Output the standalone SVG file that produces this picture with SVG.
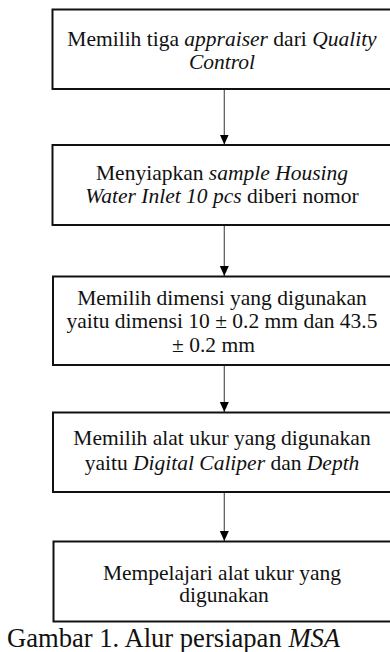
<svg xmlns="http://www.w3.org/2000/svg" width="390" height="652" viewBox="0 0 390 652">
<style>
.box{fill:#fff;stroke:#111;stroke-width:2}
.t{font-family:"Liberation Serif","Times New Roman",serif;font-size:21.5px;fill:#111;text-anchor:middle}
.i{font-style:italic}
.c{stroke:#555;stroke-width:1.2;fill:none}
.cap{font-family:"Liberation Serif","Times New Roman",serif;font-size:26.6px;fill:#111}
</style>
<defs>
<marker id="ah" viewBox="0 0 10 10" refX="10" refY="5" markerWidth="10" markerHeight="10" markerUnits="userSpaceOnUse" orient="auto">
<path d="M0,0.5 L10,5 L0,9.5 Z" fill="#000"/>
</marker>
</defs>
<rect width="390" height="652" fill="#fff"/>
<g id="connectors">
<line class="c" x1="224.3" y1="89" x2="224.3" y2="144.5" marker-end="url(#ah)"/>
<line class="c" x1="224.3" y1="225" x2="224.3" y2="276" marker-end="url(#ah)"/>
<line class="c" x1="224.3" y1="365" x2="224.3" y2="412" marker-end="url(#ah)"/>
<line class="c" x1="224.3" y1="492" x2="224.3" y2="541" marker-end="url(#ah)"/>
</g>
<g id="n1">
<rect class="box" x="52.5" y="9.5" width="342" height="79.5"/>
<text class="t" x="222" y="46">Memilih tiga <tspan class="i">appraiser</tspan> dari <tspan class="i">Quality</tspan></text>
<text class="t i" x="222" y="69">Control</text>
</g>
<g id="n2">
<rect class="box" x="52.5" y="145" width="342" height="80"/>
<text class="t" x="222" y="180">Menyiapkan <tspan class="i">sample Housing</tspan></text>
<text class="t" x="222" y="203"><tspan class="i">Water Inlet 10 pcs</tspan> diberi nomor</text>
</g>
<g id="n3">
<rect class="box" x="53" y="276.5" width="342" height="88.5"/>
<text class="t" x="222" y="305">Memilih dimensi yang digunakan</text>
<text class="t" x="222" y="328">yaitu dimensi 10 ± 0.2 mm dan 43.5</text>
<text class="t" x="213.5" y="352">± 0.2 mm</text>
</g>
<g id="n4">
<rect class="box" x="53" y="412.5" width="342" height="79.5"/>
<text class="t" x="222" y="445">Memilih alat ukur yang digunakan</text>
<text class="t" x="222" y="470">yaitu <tspan class="i">Digital Caliper</tspan> dan <tspan class="i">Depth</tspan></text>
</g>
<g id="n5">
<rect class="box" x="53.5" y="541.5" width="342" height="80"/>
<text class="t" x="222" y="580">Mempelajari alat ukur yang</text>
<text class="t" x="224" y="602">digunakan</text>
</g>
<text class="cap" x="7" y="646.5">Gambar 1. Alur persiapan <tspan font-style="italic">MSA</tspan></text>
</svg>
